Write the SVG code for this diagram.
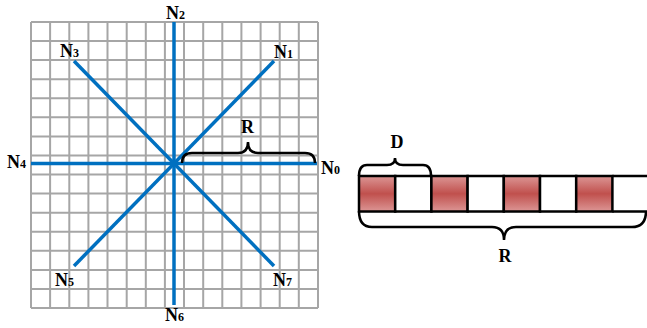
<svg xmlns="http://www.w3.org/2000/svg" width="647" height="328" viewBox="0 0 647 328">
<defs>
<linearGradient id="red" x1="0" y1="0" x2="0" y2="1">
<stop offset="0" stop-color="#dc9695"/>
<stop offset="0.5" stop-color="#c0504d"/>
<stop offset="1" stop-color="#dc9695"/>
</linearGradient>
</defs>
<style>
.lbl{font-family:"Liberation Serif","Times New Roman",serif;font-weight:bold;font-size:18px;fill:#000}
.sub{font-size:12px}
.ray{stroke:#0070c0;stroke-width:3.5;fill:none}
.brace{stroke:#000;stroke-width:2.5;fill:none}
.cell{stroke:#000;stroke-width:2.5}
.gl{stroke:#a6a6a6;stroke-width:2;fill:none}
</style>
<rect x="0" y="0" width="647" height="328" fill="#fff"/>
<g id="grid-area">
<path class="gl" d="M31,22 V308 M50.1,22 V308 M69.3,22 V308 M88.4,22 V308 M107.5,22 V308 M126.7,22 V308 M145.8,22 V308 M164.9,22 V308 M184,22 V308 M203.2,22 V308 M222.3,22 V308 M241.4,22 V308 M260.6,22 V308 M279.7,22 V308 M298.8,22 V308 M318,22 V308"/>
<path class="gl" d="M31,22 H318 M31,41.1 H318 M31,60.1 H318 M31,79.2 H318 M31,98.3 H318 M31,117.3 H318 M31,136.4 H318 M31,155.5 H318 M31,174.5 H318 M31,193.6 H318 M31,212.7 H318 M31,231.7 H318 M31,250.8 H318 M31,269.9 H318 M31,288.9 H318 M31,308 H318"/>
</g>
<g id="connectors">
<line class="ray" x1="174" y1="22" x2="174" y2="305"/>
<line class="ray" x1="31" y1="163.5" x2="317" y2="163.5"/>
<line class="ray" x1="74" y1="61" x2="274" y2="266"/>
<line class="ray" x1="274" y1="61" x2="74" y2="266"/>
</g>
<g id="N0"><text class="lbl" x="321" y="174">N<tspan class="sub">0</tspan></text></g>
<g id="N1"><text class="lbl" x="274" y="58">N<tspan class="sub">1</tspan></text></g>
<g id="N2"><text class="lbl" x="166" y="19">N<tspan class="sub">2</tspan></text></g>
<g id="N3"><text class="lbl" x="60" y="57">N<tspan class="sub">3</tspan></text></g>
<g id="N4"><text class="lbl" x="7" y="168">N<tspan class="sub">4</tspan></text></g>
<g id="N5"><text class="lbl" x="55" y="286">N<tspan class="sub">5</tspan></text></g>
<g id="N6"><text class="lbl" x="165" y="321">N<tspan class="sub">6</tspan></text></g>
<g id="N7"><text class="lbl" x="273" y="286">N<tspan class="sub">7</tspan></text></g>
<g id="radius-brace">
<path class="brace" d="M182,163 Q182,153 192,153 L238,153 Q248,153 248,142 Q248,153 258,153 L305,153 Q315,153 315,163"/>
<text class="lbl" x="247.5" y="133" text-anchor="middle">R</text>
</g>
<g id="strip">
<rect class="cell" x="359" y="176" width="36.2" height="35.5" fill="url(#red)"/>
<rect class="cell" x="395.2" y="176" width="36.2" height="35.5" fill="#fff"/>
<rect class="cell" x="431.4" y="176" width="36.2" height="35.5" fill="url(#red)"/>
<rect class="cell" x="467.6" y="176" width="36.2" height="35.5" fill="#fff"/>
<rect class="cell" x="503.8" y="176" width="36.2" height="35.5" fill="url(#red)"/>
<rect class="cell" x="540" y="176" width="36.2" height="35.5" fill="#fff"/>
<rect class="cell" x="576.2" y="176" width="36.2" height="35.5" fill="url(#red)"/>
<path class="cell" d="M612.4,176 H647 M612.4,211.5 H647" fill="none"/>
</g>
<g id="D-brace">
<path class="brace" d="M359,176 Q359,165 367,165 L387,165 Q395,165 395,158 Q395,165 403,165 L423,165 Q431,165 431,176"/>
<text class="lbl" x="397" y="148" text-anchor="middle">D</text>
</g>
<g id="R-brace">
<path class="brace" d="M359,211 Q359,227 372,227 L492,227 Q504,227 504,240 Q504,227 516,227 L632,227 Q646,227 646,211"/>
<text class="lbl" x="505" y="262" text-anchor="middle">R</text>
</g>
</svg>
